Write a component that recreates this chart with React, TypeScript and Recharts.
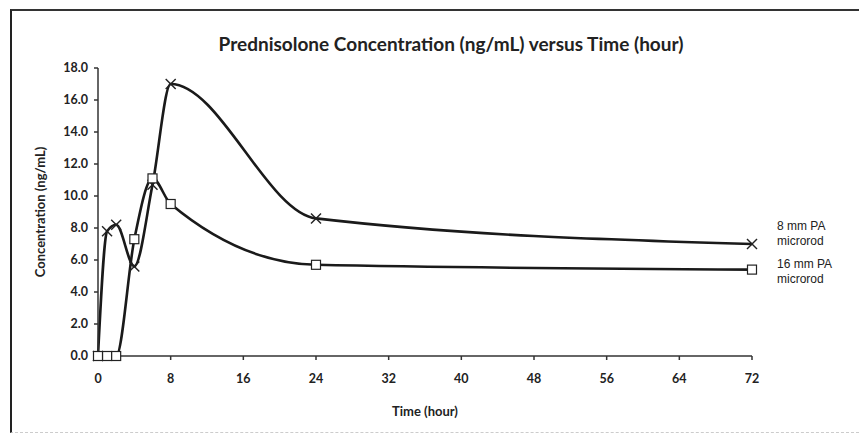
import React from "react";
import { Line, LineChart, XAxis, YAxis } from "recharts";

// sampling times (hour)
const hours = [0, 1, 2, 4, 6, 8, 24, 72];
// prednisolone concentration (ng/mL)
const rod8mm = [0, 7.8, 8.2, 5.6, 10.7, 17.0, 8.6, 7.0];
const rod16mm = [0, 0, 0, 7.3, 11.1, 9.5, 5.7, 5.4];

const xTicks = [0, 8, 16, 24, 32, 40, 48, 56, 64, 72];
const yTicks = [0, 2, 4, 6, 8, 10, 12, 14, 16, 18];

const seriesNames = ["8 mm PA microrod", "16 mm PA microrod"];

const data = hours.map((t, i) => ({ t, a: rod8mm[i], b: rod16mm[i] }));

const tickFont = { fontFamily: "Lato", fontWeight: 700, fontSize: 12.5, fill: "#222" };

function CrossDot(props: any) {
  const { cx, cy } = props;
  if (cx == null || cy == null) return null;
  const s = 5;
  return (
    <g stroke="#222" strokeWidth={1.4}>
      <line x1={cx - s} y1={cy - s} x2={cx + s} y2={cy + s} />
      <line x1={cx - s} y1={cy + s} x2={cx + s} y2={cy - s} />
    </g>
  );
}

function SquareDot(props: any) {
  const { cx, cy } = props;
  if (cx == null || cy == null) return null;
  return <rect x={cx - 4.5} y={cy - 4.5} width={9} height={9} fill="#fff" stroke="#222" strokeWidth={1.2} />;
}

export default function App() {
  return (
    <div style={{ position: "absolute", left: 0, top: 0, width: 859, height: 436, background: "#fff" }}>
      <div
        style={{
          position: "absolute",
          left: 10,
          top: 9,
          width: 849,
          height: 424,
          borderLeft: "2px solid #222",
          borderTop: "2px solid #333",
          borderBottom: "1px dashed #ccc",
          boxSizing: "border-box",
        }}
      />
      <div
        style={{
          position: "absolute",
          left: 0,
          top: 32,
          width: 902,
          textAlign: "center",
          fontFamily: "Lato",
          fontWeight: 700,
          fontSize: 19,
          color: "#222",
        }}
      >
        Prednisolone Concentration (ng/mL) versus Time (hour)
      </div>
      <div
        style={{
          position: "absolute",
          left: 777,
          top: 219,
          fontFamily: "Liberation Sans",
          fontSize: 12,
          color: "#222",
          lineHeight: "15px",
        }}
      >
        <div style={{ marginBottom: 8 }}>
          8 mm PA
          <br />
          microrod
        </div>
        <div>
          16 mm PA
          <br />
          microrod
        </div>
      </div>
      <LineChart width={859} height={436} data={data} margin={{ top: 68, right: 107, left: 40, bottom: 16 }}>
        <XAxis
          dataKey="t"
          type="number"
          domain={[0, 72]}
          ticks={xTicks}
          tick={tickFont}
          stroke="#333"
          strokeWidth={1.5}
          tickSize={4}
          tickMargin={14}
          height={64}
          label={{ value: "Time (hour)", position: "insideBottom", offset: 4, style: { ...tickFont, fontSize: 13 } }}
        />
        <YAxis
          type="number"
          domain={[0, 18]}
          ticks={yTicks}
          tickFormatter={(v: number) => v.toFixed(1)}
          tick={tickFont}
          stroke="#333"
          strokeWidth={1.5}
          tickSize={4}
          tickMargin={6}
          width={58}
          label={{
            value: "Concentration (ng/mL)",
            angle: -90,
            position: "insideLeft",
            offset: 0,
            style: { ...tickFont, fontSize: 13, textAnchor: "middle" },
          }}
        />
        <Line
          name={seriesNames[0]}
          dataKey="a"
          type="monotone"
          stroke="#1a1a1a"
          strokeWidth={2.6}
          dot={<CrossDot />}
          activeDot={false}
          isAnimationActive={false}
        />
        <Line
          name={seriesNames[1]}
          dataKey="b"
          type="monotone"
          stroke="#1a1a1a"
          strokeWidth={2.6}
          dot={<SquareDot />}
          activeDot={false}
          isAnimationActive={false}
        />
      </LineChart>
    </div>
  );
}
